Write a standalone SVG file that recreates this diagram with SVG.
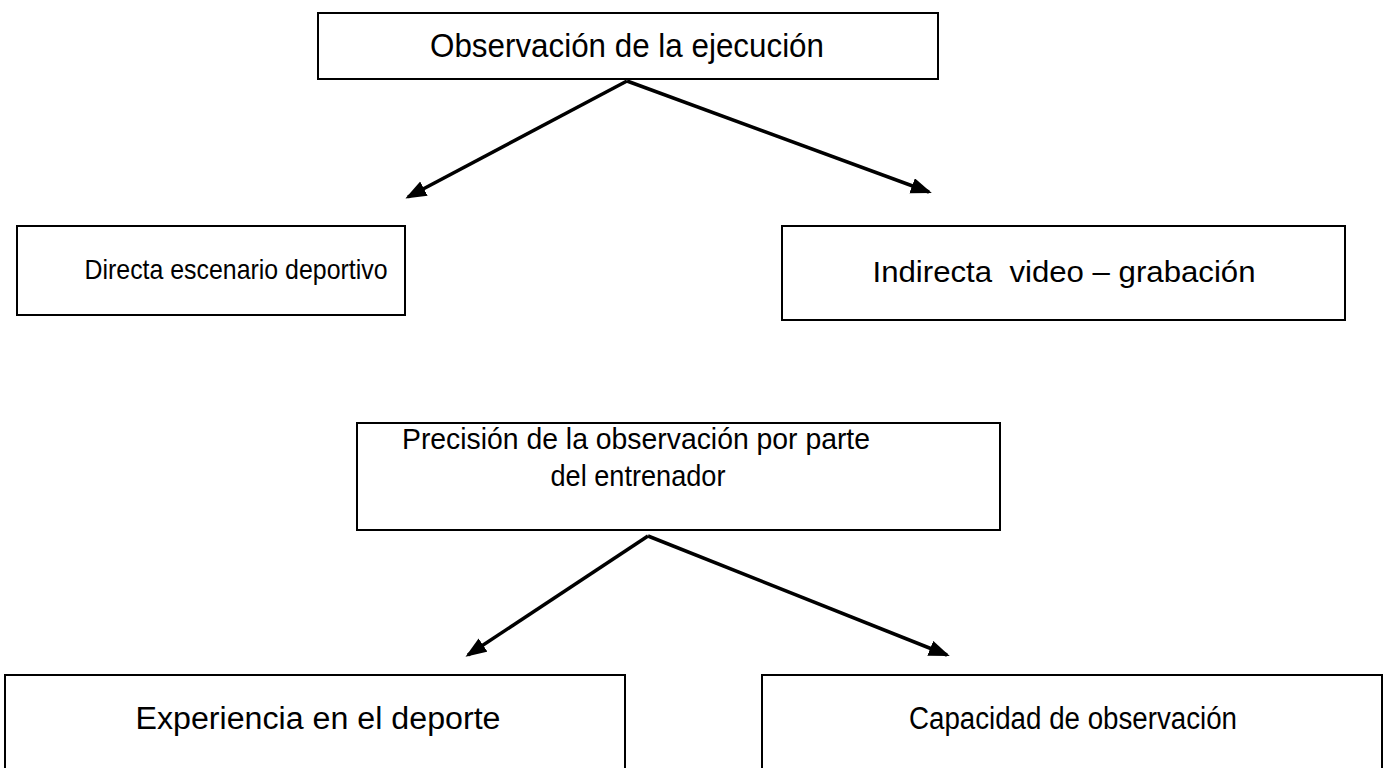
<svg xmlns="http://www.w3.org/2000/svg" width="1385" height="768" viewBox="0 0 1385 768">
<defs>
<style>
.box{fill:#fff;stroke:#000;stroke-width:2}
.t{font-family:"Liberation Sans",Arial,sans-serif;fill:#000;text-anchor:middle}
.c{stroke:#000;stroke-width:3.5;fill:none;marker-end:url(#ah)}
</style>
<marker id="ah" markerUnits="userSpaceOnUse" markerWidth="24" markerHeight="18" refX="18" refY="8" orient="auto">
<path d="M0,0 L21,8 L0,16 z" fill="#000"/>
</marker>
</defs>
<rect width="1385" height="768" fill="#fff"/>
<g id="connectors">
<line class="c" x1="627" y1="81" x2="408" y2="197"/>
<line class="c" x1="627" y1="81" x2="929" y2="192"/>
<line class="c" x1="648" y1="536" x2="468" y2="655"/>
<line class="c" x1="648" y1="536" x2="947" y2="655"/>
</g>
<g id="n1">
<rect class="box" x="318" y="13" width="620" height="66"/>
<text class="t" x="627" y="57" font-size="33" textLength="394" lengthAdjust="spacingAndGlyphs">Observación de la ejecución</text>
</g>
<g id="n2">
<rect class="box" x="17" y="226" width="388" height="89"/>
<text class="t" x="236" y="279" font-size="28" textLength="303" lengthAdjust="spacingAndGlyphs">Directa escenario deportivo</text>
</g>
<g id="n3">
<rect class="box" x="782" y="226" width="563" height="94"/>
<text class="t" x="1064" y="282" font-size="30" textLength="383" lengthAdjust="spacingAndGlyphs" xml:space="preserve">Indirecta  video – grabación</text>
</g>
<g id="n4">
<rect class="box" x="357" y="423" width="643" height="107"/>
<text class="t" x="636" y="449" font-size="30" textLength="468" lengthAdjust="spacingAndGlyphs">Precisión de la observación por parte</text>
<text class="t" x="638" y="486" font-size="30" textLength="175" lengthAdjust="spacingAndGlyphs">del entrenador</text>
</g>
<g id="n5">
<rect class="box" x="5" y="675" width="620" height="110"/>
<text class="t" x="318" y="729" font-size="31" textLength="365" lengthAdjust="spacingAndGlyphs">Experiencia en el deporte</text>
</g>
<g id="n6">
<rect class="box" x="762" y="675" width="620" height="110"/>
<text class="t" x="1073" y="729" font-size="31" textLength="328" lengthAdjust="spacingAndGlyphs">Capacidad de observación</text>
</g>
</svg>
